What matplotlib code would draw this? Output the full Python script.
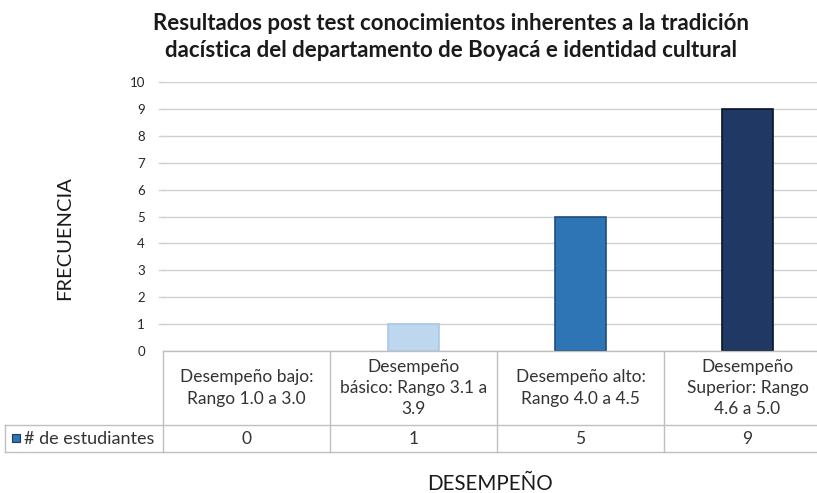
import matplotlib
matplotlib.use("Agg")
import matplotlib.pyplot as plt
from matplotlib.transforms import blended_transform_factory
from matplotlib.patches import Rectangle

categories = ["Desempeño bajo:\nRango 1.0 a 3.0",
              "Desempeño\nbásico: Rango 3.1 a\n3.9",
              "Desempeño alto:\nRango 4.0 a 4.5",
              "Desempeño\nSuperior: Rango\n4.6 a 5.0"]
values = [0, 1, 5, 9]
series_name = "# de estudiantes"
yticks = list(range(0, 11))
title = "Resultados post test conocimientos inherentes a la tradición\ndacística del departamento de Boyacá e identidad cultural"

face_colors = ["#bdd7ee", "#bdd7ee", "#2e75b6", "#203864"]
edge_colors = ["none", "#a9c8e6", "#1f4e79", "#0a1326"]

plt.rcParams['font.family'] = ['Lato', 'DejaVu Sans']

W, H = 817, 493
fig = plt.figure(figsize=(W / 100, H / 100), dpi=100)

def fx(px):
    return px / W

def fy(py):
    return 1 - py / H

ax_left, ax_right = 163, 831
ax_top, ax_bot = 82, 351
ax = fig.add_axes([fx(ax_left), fy(ax_bot), fx(ax_right - ax_left), (ax_bot - ax_top) / H])

x = list(range(len(values)))
ax.bar(x, values, width=0.31, color=face_colors, edgecolor=edge_colors, linewidth=1.2, zorder=3)
ax.set_xlim(-0.5, len(values) - 0.5)
ax.set_ylim(0, 10)
ax.set_yticks(yticks)
ax.set_yticklabels([str(t) for t in yticks], fontsize=9.5, color="#262626")
ax.tick_params(axis='y', length=0, pad=13)
ax.tick_params(axis='x', length=0, labelbottom=False)
for s in ax.spines.values():
    s.set_visible(False)
ax.grid(axis='y', color="#d0d0d0", linewidth=1.0, zorder=0)
ax.set_axisbelow(True)
for t in yticks[1:]:
    ax.plot([-0.5 - 0.006 * 4, -0.5], [t, t], color="#d0d0d0", lw=1.0, clip_on=False)

# table
tr = blended_transform_factory(ax.transData, fig.transFigure)
grid_c = "#bfbfbf"
row0, row1, row2 = 351, 425, 452
xl = -0.5
xr = len(values) - 0.5
fig.add_artist(plt.Line2D([xl, xr], [fy(row0), fy(row0)], transform=tr, color=grid_c, lw=1.0))
fig.add_artist(plt.Line2D([fx(5), fx(ax_right)], [fy(row1), fy(row1)], transform=fig.transFigure, color=grid_c, lw=1.0))
fig.add_artist(plt.Line2D([fx(5), fx(ax_right)], [fy(row2), fy(row2)], transform=fig.transFigure, color=grid_c, lw=1.0))
for i in range(len(values) + 1):
    xv = i - 0.5
    fig.add_artist(plt.Line2D([xv, xv], [fy(row0), fy(row2)], transform=tr, color=grid_c, lw=1.0))
fig.add_artist(plt.Line2D([fx(5), fx(5)], [fy(row1), fy(row2)], transform=fig.transFigure, color=grid_c, lw=1.0))

for i, (c, v) in enumerate(zip(categories, values)):
    fig.text(i, fy((row0 + row1) / 2), c, transform=tr, ha='center', va='center',
             fontsize=12.5, color="#333333", linespacing=1.4)
    fig.text(i, fy((row1 + row2) / 2), str(v), transform=tr, ha='center', va='center',
             fontsize=12.5, color="#333333")

# legend key
fig.add_artist(Rectangle((fx(12), fy(442)), fx(8), 8 / H, transform=fig.transFigure,
                         facecolor="#2e75b6", edgecolor="#1f3864", lw=0.8))
fig.text(fx(24), fy((row1 + row2) / 2), series_name, ha='left', va='center',
         fontsize=13, color="#333333")

fig.text(fx(451), fy(37), title, ha='center', va='center', fontsize=16,
         fontweight='bold', color="#1a1a1a", linespacing=1.4)
fig.text(fx(65), fy(238), "FRECUENCIA", rotation=90, ha='center', va='center',
         fontsize=14.5, color="#1a1a1a")
fig.text(fx(490), fy(484), "DESEMPEÑO", ha='center', va='center',
         fontsize=14.8, color="#1a1a1a")

fig.savefig("out.png", dpi=100, facecolor="white")
